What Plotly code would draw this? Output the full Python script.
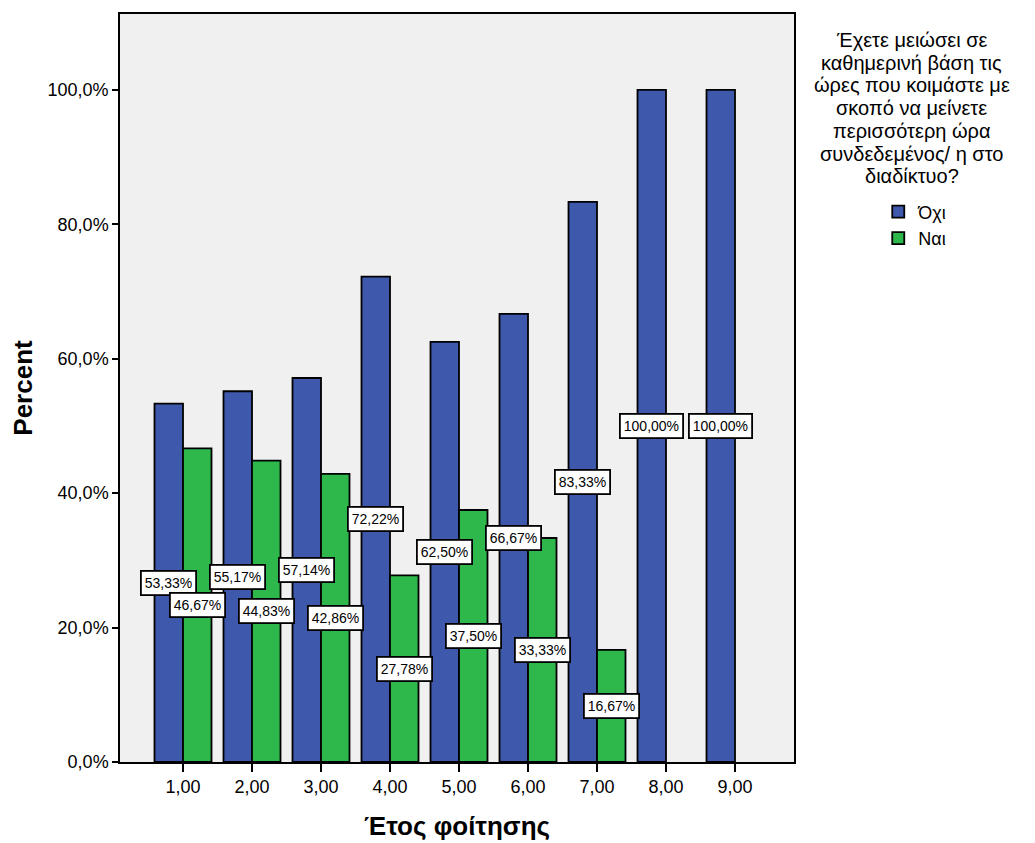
import plotly.graph_objects as go

# data
years = [1, 2, 3, 4, 5, 6, 7, 8, 9]
year_labels = ["1,00", "2,00", "3,00", "4,00", "5,00", "6,00", "7,00", "8,00", "9,00"]
ochi = [53.33, 55.17, 57.14, 72.22, 62.50, 66.67, 83.33, 100.00, 100.00]
nai = [46.67, 44.83, 42.86, 27.78, 37.50, 33.33, 16.67, None, None]
y_ticks = [0, 20, 40, 60, 80, 100]
y_tick_labels = ["0,0%", "20,0%", "40,0%", "60,0%", "80,0%", "100,0%"]

legend_title_lines = ["Έχετε μειώσει σε", "καθημερινή βάση τις", "ώρες που κοιμάστε με",
                      "σκοπό να μείνετε", "περισσότερη ώρα", "συνδεδεμένος/ η στο",
                      "διαδίκτυο?"]

font = "Arial, Liberation Sans, sans-serif"
blue = "#3e58ac"
green = "#2eb84b"
bargap = 0.174
half = (1 - bargap) / 4  # offset of each bar centre from the category

fig = go.Figure()
fig.add_trace(go.Bar(x=years, y=ochi, name="Όχι", marker_color=blue,
                     marker_line=dict(color="black", width=1.8)))
fig.add_trace(go.Bar(x=years, y=nai, name="Ναι", marker_color=green,
                     marker_line=dict(color="black", width=1.8)))


def fmt(v):
    return f"{v:.2f}".replace(".", ",") + "%"


for xs, vals, off in [(years, ochi, -half), (years, nai, half)]:
    for x, v in zip(xs, vals):
        if v is None:
            continue
        fig.add_annotation(x=x + off, y=v / 2, text=fmt(v), showarrow=False,
                           bgcolor="white", bordercolor="black", borderwidth=1.8,
                           borderpad=3, font=dict(family=font, size=14, color="black"))

# legend title: one centred line per annotation so the spacing stays tight
for i, line in enumerate(legend_title_lines):
    fig.add_annotation(xref="paper", yref="paper", x=1.175, y=(762 - 38 - i * 22.8) / 750,
                       xanchor="center", yanchor="middle", text=line, showarrow=False,
                       font=dict(family=font, size=20, color="black"))

fig.update_layout(
    width=1035, height=843,
    margin=dict(l=112, r=249, t=4, b=89),
    barmode="group", bargap=bargap, bargroupgap=0,
    plot_bgcolor="#f0f0f0", paper_bgcolor="white",
    font=dict(family=font, color="black"),
    showlegend=True,
    legend=dict(x=1.125, y=0.760, xanchor="left", yanchor="top",
                font=dict(family=font, size=18), bgcolor="rgba(0,0,0,0)",
                tracegroupgap=0, itemwidth=30),
    xaxis=dict(range=[0.087, 9.855], tickvals=years, ticktext=year_labels,
               ticks="outside", ticklen=8, tickwidth=2, tickcolor="black",
               showgrid=False, zeroline=False, showline=True, linecolor="black",
               linewidth=1.5, mirror=True, tickfont=dict(size=18),
               title=dict(text="<b>Έτος φοίτησης</b>", font=dict(size=26), standoff=20)),
    yaxis=dict(range=[0, 111.3], tickvals=y_ticks, ticktext=y_tick_labels,
               ticks="outside", ticklen=6, tickwidth=2, tickcolor="black",
               showgrid=False, zeroline=False, showline=True, linecolor="black",
               linewidth=1.5, mirror=True, tickfont=dict(size=18),
               title=dict(text="<b>Percent</b>", font=dict(size=26), standoff=11)),
)

fig.write_html("out.html")
